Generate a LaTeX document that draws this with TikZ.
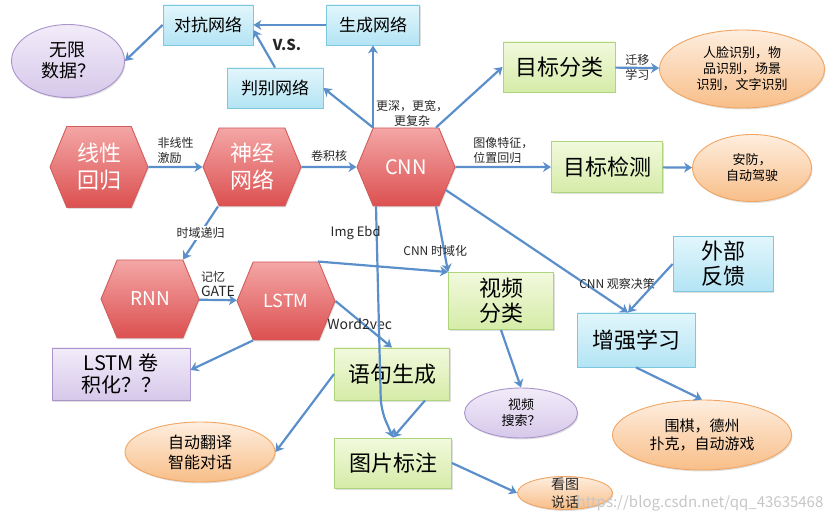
\documentclass[tikz,border=0pt]{standalone}
\usepackage{fontspec}
\setmainfont{Noto Sans CJK SC}
\usetikzlibrary{shapes.geometric,shapes.symbols,arrows.meta,shadows}

\definecolor{arrowblue}{HTML}{5B8FCA}
\definecolor{cyanline}{HTML}{7DC7DF}
\definecolor{cyantop}{HTML}{E2F6FC}
\definecolor{cyanbot}{HTML}{B3E4F4}
\definecolor{greenline}{HTML}{AED47C}
\definecolor{greentop}{HTML}{F2F9DD}
\definecolor{greenbot}{HTML}{D5ECA8}
\definecolor{purpleline}{HTML}{A994CC}
\definecolor{purpletop}{HTML}{F2ECF9}
\definecolor{purplebot}{HTML}{D6C8EA}
\definecolor{orangeline}{HTML}{F2A562}
\definecolor{orangetop}{HTML}{FEEEDF}
\definecolor{orangebot}{HTML}{F8BE88}
\definecolor{hexline}{HTML}{D25C5C}
\definecolor{hextop}{HTML}{F4A6A6}
\definecolor{hexbot}{HTML}{DC5050}

\begin{document}
\begin{tikzpicture}[
    x=1pt, y=-1pt,
    cyanbox/.style={rectangle, draw=cyanline, line width=0.9pt, top color=cyantop, bottom color=cyanbot, align=center, inner sep=1pt, font=\fontsize{17}{21}\selectfont, drop shadow={shadow xshift=1pt, shadow yshift=-1.5pt, opacity=0.25}},
    greenbox/.style={cyanbox, draw=greenline, top color=greentop, bottom color=greenbot, font=\fontsize{22}{25}\selectfont},
    purplebox/.style={cyanbox, draw=purpleline, top color=purpletop, bottom color=purplebot, font=\fontsize{20}{22}\selectfont},
    hexa/.style={signal, signal to=east and west, signal pointer angle=135, draw=hexline, line width=0.9pt, top color=hextop, bottom color=hexbot, text=white, align=center, inner sep=0pt, minimum width=98pt, minimum height=78pt, font=\fontsize{22}{27}\selectfont, drop shadow={shadow xshift=1pt, shadow yshift=-1.5pt, opacity=0.25}},
    oval/.style={ellipse, draw=orangeline, line width=0.9pt, top color=orangetop, bottom color=orangebot, align=center, inner sep=0pt, font=\fontsize{13}{16}\selectfont, drop shadow={shadow xshift=1pt, shadow yshift=-1.5pt, opacity=0.25}},
    purpleoval/.style={oval, draw=purpleline, top color=purpletop, bottom color=purplebot},
    arrow/.style={-{Stealth[length=8pt, width=10pt, inset=2.5pt]}, line width=2.2pt, draw=arrowblue},
    lbl/.style={text=black!85, align=left, inner sep=1pt, font=\fontsize{12}{15}\selectfont}
  ]
    \useasboundingbox (0,0) rectangle (833,521);

    % Top row - adversarial networks
    \node[cyanbox, minimum width=90pt, minimum height=40pt] (adv) at (208,25) {对抗网络};
    \node[cyanbox, minimum width=93pt, minimum height=40pt] (gen) at (373,25) {生成网络};
    \node[cyanbox, minimum width=96pt, minimum height=40pt] (disc) at (275,88) {判别网络};
    \node[purpleoval, minimum width=113pt, minimum height=73pt, font=\fontsize{18}{21}\selectfont] (data) at (68,61) {无限\\数据？};
    \node[lbl, font=\fontsize{15}{18}\selectfont\bfseries] (vs) at (287,45) {V.S.};

    % Classification branch
    \node[greenbox, minimum width=112pt, minimum height=50pt] (cls) at (559,67) {目标分类};
    \node[oval, minimum width=165pt, minimum height=78pt] (face) at (742,69) {人脸识别，物\\品识别，场景\\识别，文字识别};

    % Main chain
    \node[hexa, minimum height=81pt] (lin) at (99,167) {线性\\回归};
    \node[hexa] (nn) at (252,167) {神经\\网络};
    \node[hexa, font=\fontsize{20}{24}\selectfont] (cnn) at (406,167) {CNN};
    \node[lbl, align=center] (deeper) at (412,113) {更深，更宽，\\更复杂};

    % Detection branch
    \node[greenbox, minimum width=111pt, minimum height=51pt] (det) at (607,167) {目标检测};
    \node[oval, minimum width=119pt, minimum height=67pt] (safe) at (752,168) {安防，\\自动驾驶};

    % Recurrent branch
    \node[hexa, font=\fontsize{19}{22}\selectfont] (rnn) at (150,299) {RNN};
    \node[hexa, font=\fontsize{18}{22}\selectfont] (lstm) at (286,301) {LSTM};
    \node[purplebox, minimum width=138pt, minimum height=52pt] (conv) at (121,374) {LSTM 卷\\积化？？};

    % Video and reinforcement learning
    \node[greenbox, minimum width=105pt, minimum height=57pt] (vid) at (501,301) {视频\\分类};
    \node[cyanbox, minimum width=100pt, minimum height=55pt, font=\fontsize{22}{25}\selectfont] (fb) at (723,264) {外部\\反馈};
    \node[cyanbox, minimum width=118pt, minimum height=54pt, font=\fontsize{22}{25}\selectfont] (rl) at (636,340) {增强学习};
    \node[purpleoval, minimum width=113pt, minimum height=50pt] (search) at (521,413) {视频\\搜索？};
    \node[oval, minimum width=179pt, minimum height=70pt, font=\fontsize{15}{18}\selectfont] (game) at (702,435) {围棋，德州\\扑克，自动游戏};

    % Language branch
    \node[greenbox, minimum width=115pt, minimum height=52pt] (sent) at (392,374) {语句生成};
    \node[greenbox, minimum width=117pt, minimum height=50pt] (cap) at (393,463) {图片标注};
    \node[oval, minimum width=150pt, minimum height=60pt, font=\fontsize{16}{20}\selectfont] (trans) at (200,452) {自动翻译\\智能对话};
    \node[oval, minimum width=95pt, minimum height=33pt, label={[lbl, align=center, font=\fontsize{14}{18}\selectfont]center:看图\\说话}] (talk) at (565,493) {};
    \coordinate (ebdbend) at (381,410);

    % Connectors
    \draw[arrow] (gen) -- (adv);
    \draw[arrow] (disc.north) -- ([yshift=-5pt]adv.east);
    \draw[arrow] (adv.west) -- (data.east);
    \draw[arrow] (lin) -- node[lbl, above=1pt] {非线性\\激励} (nn);
    \draw[arrow] (nn) -- node[lbl, above=3pt] {卷积核} (cnn);
    \draw[arrow] ([xshift=-33pt]cnn.north) -- (gen.south);
    \draw[arrow] ([xshift=-33pt]cnn.north) -- (disc.east);
    \draw[arrow] ([xshift=30pt]cnn.north) -- (cls.west);
    \draw[arrow] (cls) -- node[lbl] {迁移\\学习} (face);
    \draw[arrow] (cnn) -- node[lbl, above=1pt] {图像特征，\\位置回归} (det);
    \draw[arrow] (det) -- (safe);
    \draw[arrow] ([xshift=-34pt]nn.south) -- node[lbl, fill=white] {时域递归} ([xshift=33pt]rnn.north);
    \draw[arrow] (rnn) -- node[lbl, above=1pt] {记忆\\\fontsize{14}{17}\selectfont GATE} (lstm);
    \draw[arrow] ([xshift=-33pt]lstm.south) -- ([yshift=4pt]conv.east);
    \draw[arrow] ([xshift=32pt]lstm.north) -- (vid.north west);
    \draw[arrow] ([xshift=30pt]cnn.south) -- node[lbl, pos=0.68, xshift=-9pt] {CNN 时域化} (vid.north west);
    \draw[arrow] (cnn.-30) -- node[lbl, pos=0.77, xshift=31pt] {CNN 观察决策} ([xshift=-8pt]rl.north);
    \draw[arrow] (fb.west) -- ([xshift=-8pt]rl.north);
    \draw[arrow] (rl.south) -- (game.north);
    \draw[arrow] (vid.south) -- (search.north);
    \draw[arrow] (lstm.east) -- node[lbl, xshift=-4pt, font=\fontsize{14}{17}\selectfont] {Word2vec} (sent.north);
    \draw[arrow] (sent.west) -- (trans.east);
    \draw[arrow] ([xshift=33pt]sent.south) -- (cap.north);
    \draw[arrow, rounded corners=12pt] ([xshift=-30pt]cnn.south) -- node[lbl, pos=0.13, xshift=-21pt, font=\fontsize{13}{16}\selectfont] {Img Ebd} (ebdbend) -- (cap.north);
    \draw[arrow] (cap.east) -- (talk.west);

    % Watermark
    \node[text=gray!45, font=\fontsize{15}{18}\selectfont] (mark) at (700,503) {https://blog.csdn.net/qq\_43635468};
\end{tikzpicture}
\end{document}
